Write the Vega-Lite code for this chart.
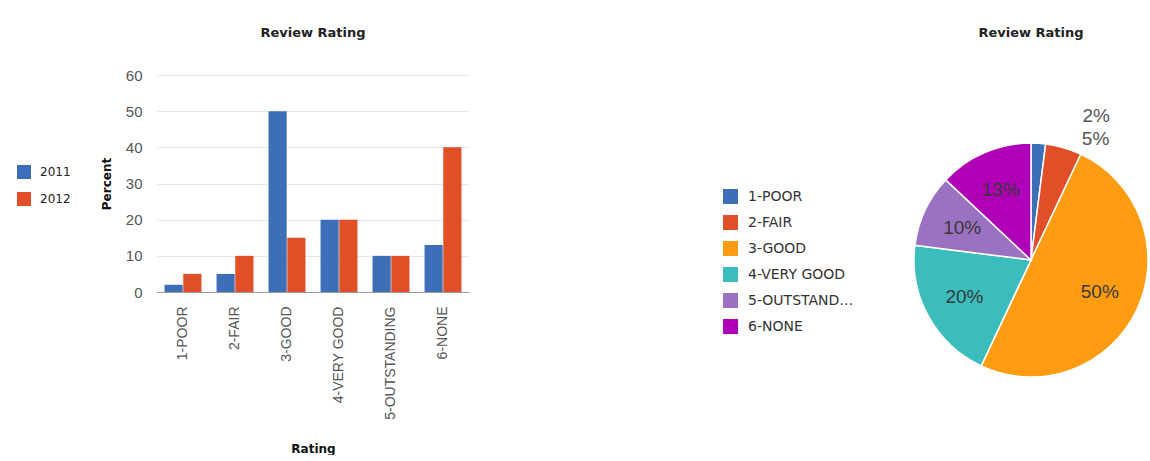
{
  "$schema": "https://vega.github.io/schema/vega-lite/v6.json",
  "padding": {"left": 17, "top": 27, "right": 0, "bottom": 0},
  "background": "white",
  "datasets": {
    "ratings": [
      {"rating": "1-POOR", "year": "2011", "percent": 2},
      {"rating": "2-FAIR", "year": "2011", "percent": 5},
      {"rating": "3-GOOD", "year": "2011", "percent": 50},
      {"rating": "4-VERY GOOD", "year": "2011", "percent": 20},
      {"rating": "5-OUTSTANDING", "year": "2011", "percent": 10},
      {"rating": "6-NONE", "year": "2011", "percent": 13},
      {"rating": "1-POOR", "year": "2012", "percent": 5},
      {"rating": "2-FAIR", "year": "2012", "percent": 10},
      {"rating": "3-GOOD", "year": "2012", "percent": 15},
      {"rating": "4-VERY GOOD", "year": "2012", "percent": 20},
      {"rating": "5-OUTSTANDING", "year": "2012", "percent": 10},
      {"rating": "6-NONE", "year": "2012", "percent": 40}
    ]
  },
  "spacing": 254,
  "resolve": {"scale": {"color": "independent"}, "legend": {"color": "independent"}},
  "hconcat": [
    {
      "width": 312,
      "height": 217,
      "title": {"text": "Review Rating", "frame": "group", "anchor": "middle", "offset": 28},
      "data": {"name": "ratings"},
      "mark": {"type": "bar"},
      "encoding": {
        "x": {
          "field": "rating", "type": "nominal", "title": "Rating",
          "scale": {"paddingInner": 0.29, "paddingOuter": 0.145},
          "axis": {"labelAngle": -90, "labelPadding": 14, "ticks": false, "grid": false, "domainColor": "#9a9a9a", "titlePadding": 24, "labelFont": "Liberation Sans", "labelFontSize": 14, "labelColor": "#555555"}
        },
        "xOffset": {"field": "year", "type": "nominal", "scale": {"paddingInner": 0.03}},
        "y": {
          "field": "percent", "type": "quantitative", "title": "Percent",
          "scale": {"domain": [0, 60]},
          "axis": {"values": [0, 10, 20, 30, 40, 50, 60], "ticks": false, "domain": false, "labelPadding": 15, "titlePadding": 12, "gridColor": "#e4e7ee", "labelFont": "Liberation Sans", "labelFontSize": 15, "labelColor": "#555555"}
        },
        "color": {
          "field": "year", "type": "nominal",
          "scale": {"domain": ["2011", "2012"], "range": ["#3c6fb7", "#e04f28"]},
          "legend": {"title": null, "orient": "none", "legendX": -140, "legendY": 90, "symbolType": "square", "symbolSize": 196, "symbolStrokeWidth": 0, "labelOffset": 9, "rowPadding": 13, "labelFontSize": 12, "labelColor": "#222222", "labelFont": "DejaVu Sans", "padding": 0}
        }
      }
    },
    {
      "width": 236,
      "height": 370,
      "title": {"text": "Review Rating", "frame": "group", "anchor": "middle", "offset": 35},
      "data": {"name": "ratings"},
      "transform": [
        {"filter": "datum.year == '2011'"},
        {"calculate": "datum.percent + '%'", "as": "label"}
      ],
      "encoding": {
        "theta": {"field": "percent", "type": "quantitative", "stack": true},
        "color": {
          "field": "rating", "type": "nominal",
          "scale": {"domain": ["1-POOR", "2-FAIR", "3-GOOD", "4-VERY GOOD", "5-OUTSTANDING", "6-NONE"], "range": ["#3c6fb7", "#e04f28", "#ff9c12", "#3bbdbe", "#9b72c2", "#af00b7"]},
          "legend": {"title": null, "orient": "none", "legendX": -190, "legendY": 114, "symbolType": "square", "symbolSize": 225, "symbolStrokeWidth": 0, "labelOffset": 10, "rowPadding": 11, "labelFontSize": 14, "labelColor": "#333333", "labelFont": "DejaVu Sans", "labelLimit": 108, "padding": 0}
        }
      },
      "layer": [
        {"mark": {"type": "arc", "outerRadius": 117, "stroke": "white", "strokeWidth": 1.5}},
        {
          "mark": {"type": "text", "radius": 76, "font": "Liberation Sans", "fontSize": 19, "fill": "#383838"},
          "encoding": {"text": {"condition": {"test": "datum.percent >= 10", "field": "label"}, "value": ""}}
        },
        {
          "mark": {"type": "text", "radius": 150, "align": "left", "dx": 42, "dy": 6, "font": "Liberation Sans", "fontSize": 19, "fill": "#555555"},
          "encoding": {"text": {"condition": {"test": "datum.rating == '1-POOR'", "field": "label"}, "value": ""}}
        },
        {
          "mark": {"type": "text", "radius": 150, "align": "left", "dx": 9, "dy": 23, "font": "Liberation Sans", "fontSize": 19, "fill": "#555555"},
          "encoding": {"text": {"condition": {"test": "datum.rating == '2-FAIR'", "field": "label"}, "value": ""}}
        }
      ]
    }
  ],
  "config": {
    "view": {"stroke": null},
    "title": {"font": "DejaVu Sans", "fontSize": 13, "fontWeight": "bold", "color": "#222222"},
    "axis": {"titleFont": "DejaVu Sans", "titleFontSize": 12, "titleFontWeight": "bold", "titleColor": "#111111"}
  }
}
